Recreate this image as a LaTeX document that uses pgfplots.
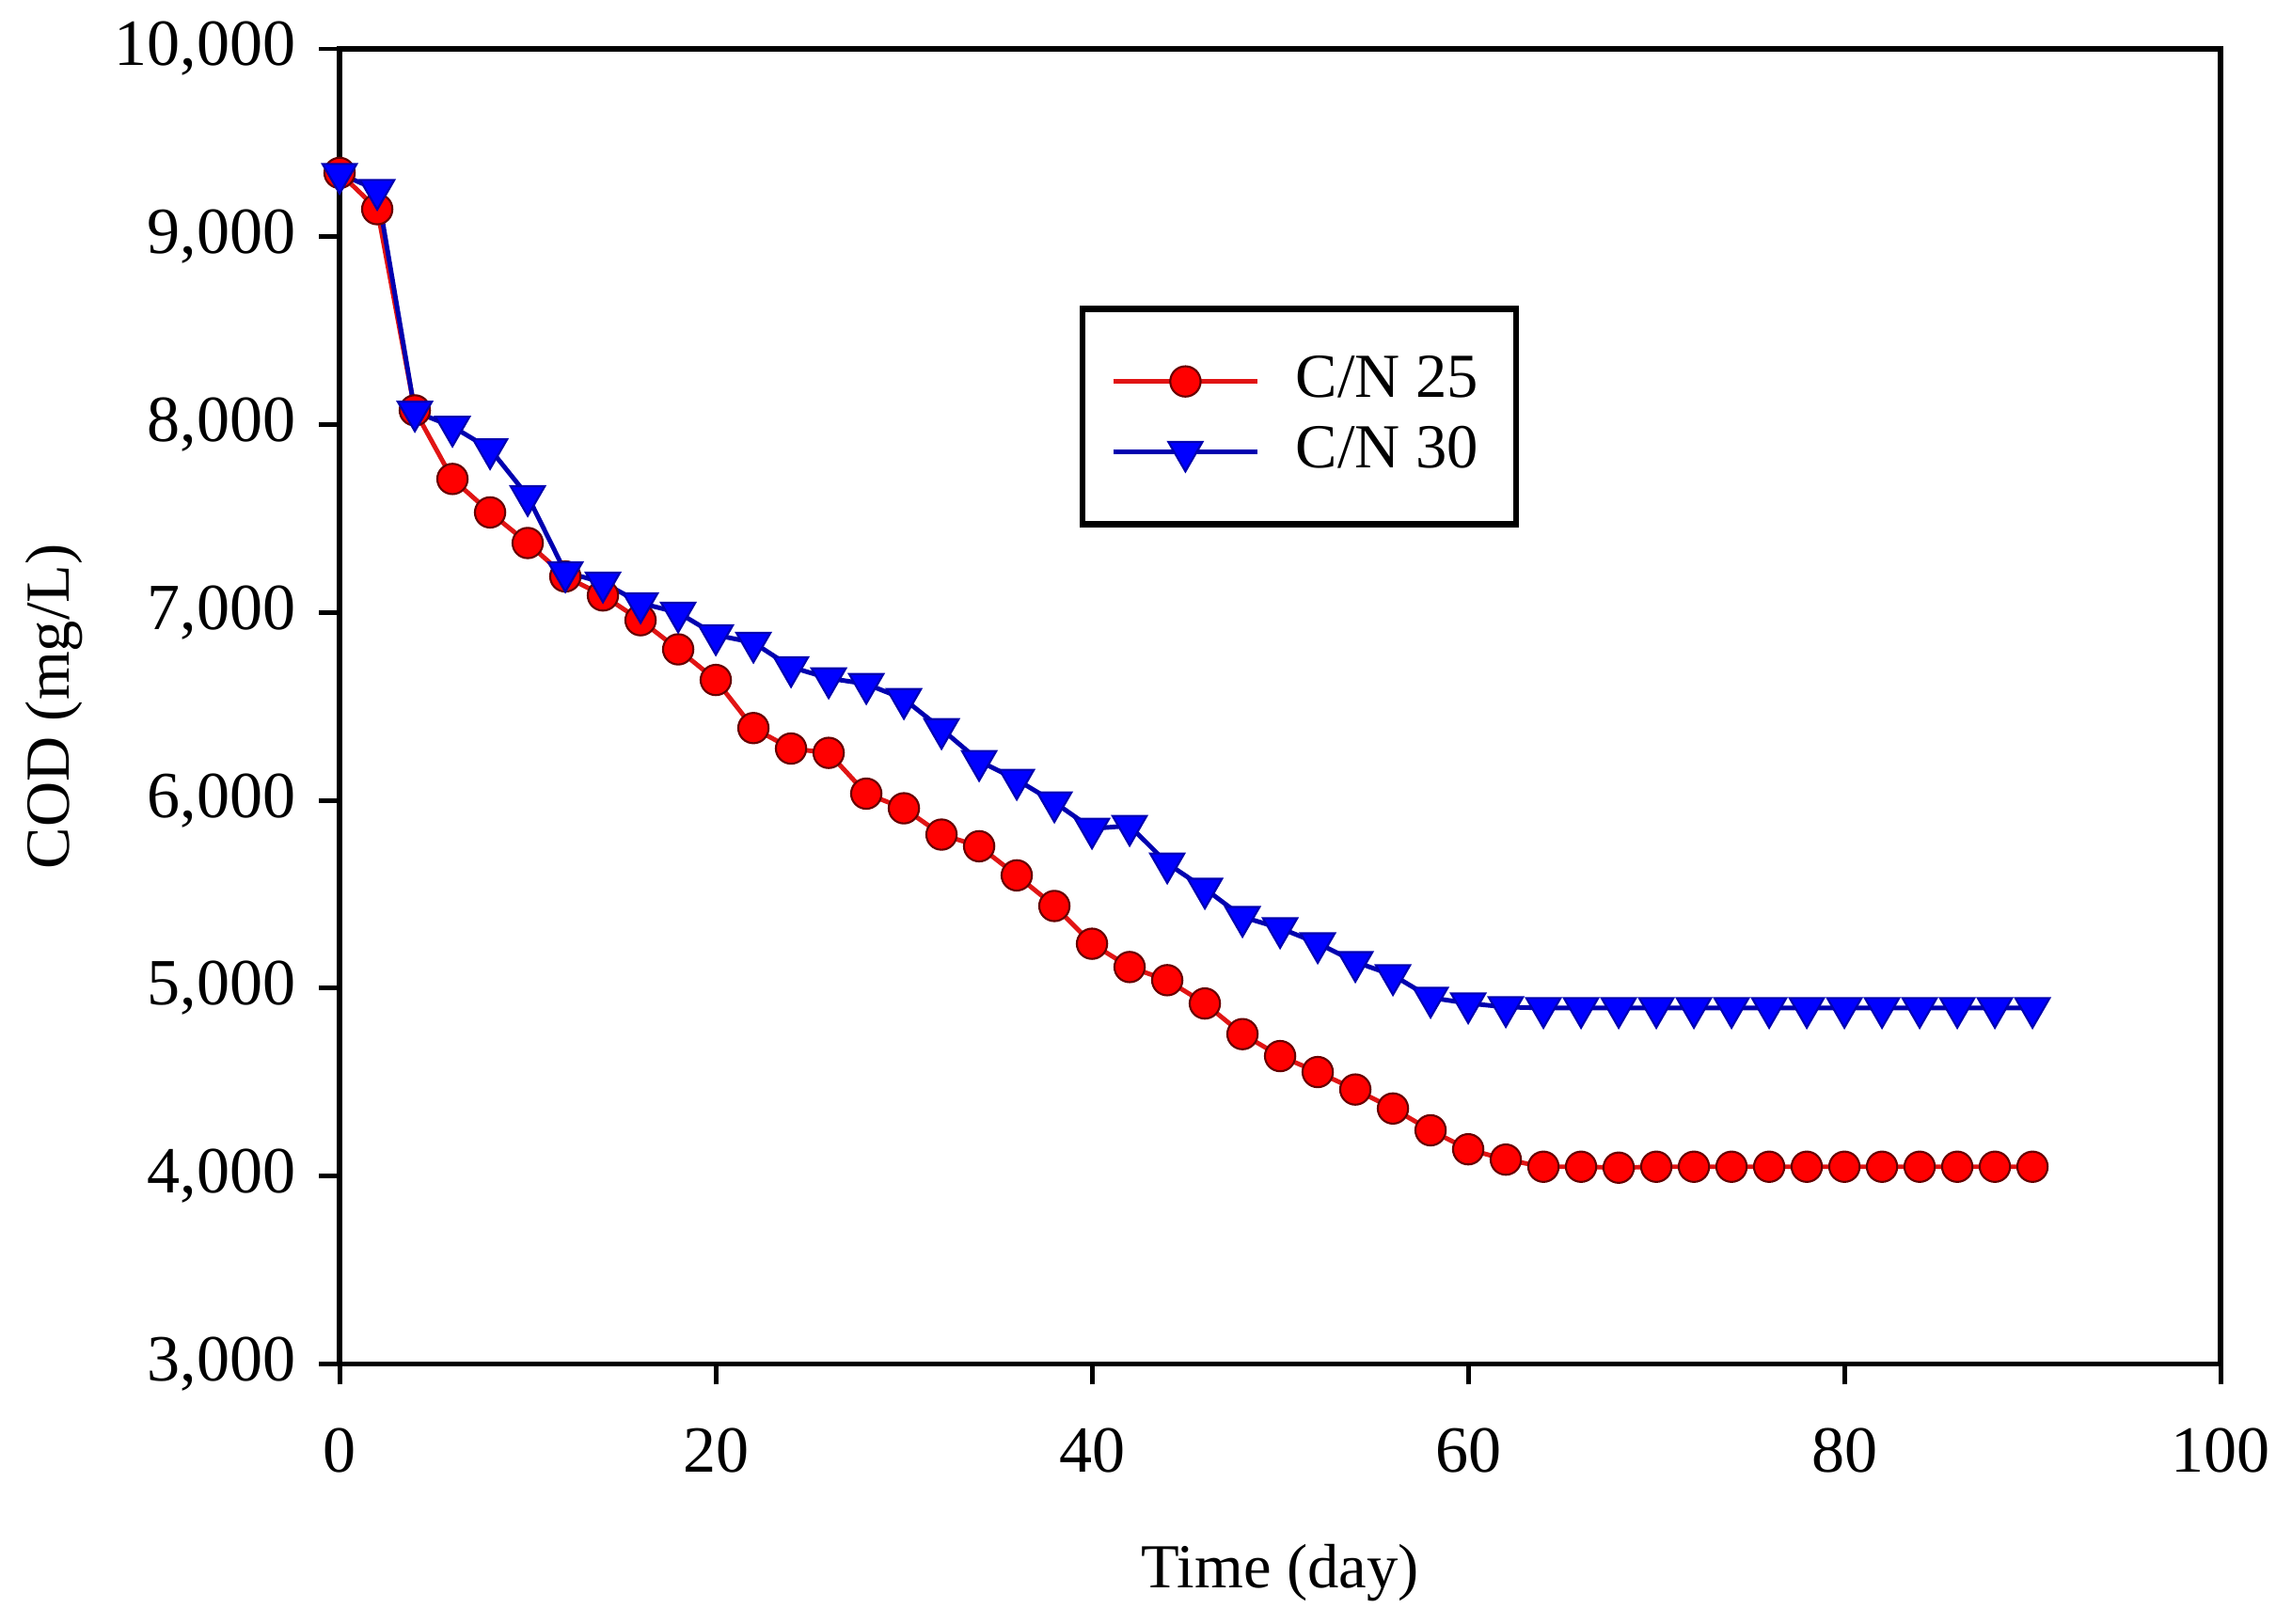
\documentclass[border=0pt]{standalone}
\usepackage{fontspec}
\setmainfont{Liberation Serif}
\usepackage{pgfplots}
\pgfplotsset{compat=1.18}
\definecolor{cnred}{RGB}{225,20,20}
\definecolor{cnredmark}{RGB}{255,0,0}
\definecolor{cnblue}{RGB}{0,0,175}
\definecolor{cnbluemark}{RGB}{0,0,255}

\begin{document}
\begin{tikzpicture}
\begin{axis}[
    name=ax,
    scale only axis,
    width=10.025cm, height=7.01cm,
    xmin=0, xmax=100,
    ymin=3000, ymax=10000,
    xtick={0,20,...,100},
    ytick={3000,4000,...,10000},
    tick align=outside,
    xtick pos=lower, ytick pos=left,
    major tick length=0.11cm,
    axis line style={line width=0.8pt},
    every tick/.style={black, line width=0.7pt},
    scaled y ticks=false,
    /pgf/number format/assume math mode=true,
    yticklabel style={/pgf/number format/1000 sep={,}},
    xticklabel style={yshift=-0.11cm},
    ticklabel style={font=\fontsize{10}{11}\selectfont},
    xlabel={Time (day)},
    ylabel={COD (mg/L)},
    label style={font=\fontsize{9.5}{11}\selectfont},
    xlabel style={at={(axis description cs:0.5,-0.159)}, anchor=center},
    ylabel style={at={(axis description cs:-0.152,0.5)}, anchor=center},
    legend cell align=left,
    legend style={at={(0.3935,0.8046)}, anchor=north west,
        draw=black, line width=0.9pt,
        font=\fontsize{9.5}{11}\selectfont,
        inner xsep=0.15cm, inner ysep=0.2cm,
        nodes={inner sep=0.05cm},
        /tikz/every odd column/.append style={column sep=0.14cm}},
    legend image code/.code={%
        \draw[mark repeat=2, mark phase=2, #1]
            plot coordinates {(0cm,0cm) (0.385cm,0cm) (0.77cm,0cm)};},
]

% C/N 25
\addplot[color=cnred, line width=0.7pt, mark=*, mark size=2.3pt,
    mark options={fill=cnredmark, draw=black!60!red, line width=0.3pt}]
    coordinates {
    (0,9340) (2,9147) (4,8076) (6,7711) (8,7533) (10,7370) (12,7192)
    (14,7091) (16,6959) (18,6804) (20,6641) (22,6385) (24,6276) (26,6253)
    (28,6036) (30,5958) (32,5818) (34,5756) (36,5601) (38,5438) (40,5237)
    (42,5113) (44,5043) (46,4919) (48,4756) (50,4639) (52,4554) (54,4461)
    (56,4360) (58,4244) (60,4143) (62,4088) (64,4050) (66,4050) (68,4045)
    (70,4050) (72,4050) (74,4050) (76,4050) (78,4050) (80,4050) (82,4050)
    (84,4050) (86,4050) (88,4050) (90,4050)
    };
\addlegendentry{C/N 25}

% C/N 30
\addplot[color=cnblue, line width=0.7pt, mark=triangle*, mark size=3pt,
    mark options={rotate=180, fill=cnbluemark, draw=cnblue, line width=0.3pt}]
    coordinates {
    (0,9335) (2,9250) (4,8070) (6,7990) (8,7870) (10,7620) (12,7215)
    (14,7160) (16,7050) (18,7000) (20,6880) (22,6840) (24,6710) (26,6650)
    (28,6620) (30,6540) (32,6380) (34,6210) (36,6110) (38,5990) (40,5850)
    (42,5865) (44,5665) (46,5530) (48,5380) (50,5320) (52,5240) (54,5140)
    (56,5070) (58,4950) (60,4920) (62,4900) (64,4895) (66,4895) (68,4895)
    (70,4895) (72,4895) (74,4895) (76,4895) (78,4895) (80,4895) (82,4895)
    (84,4895) (86,4895) (88,4895) (90,4895)
    };
\addlegendentry{C/N 30}
\end{axis}
\path ([shift={(-1.81cm,-1.385cm)}]ax.south west)
    rectangle ([shift={(0.35cm,0.245cm)}]ax.north east);
\end{tikzpicture}
\end{document}
